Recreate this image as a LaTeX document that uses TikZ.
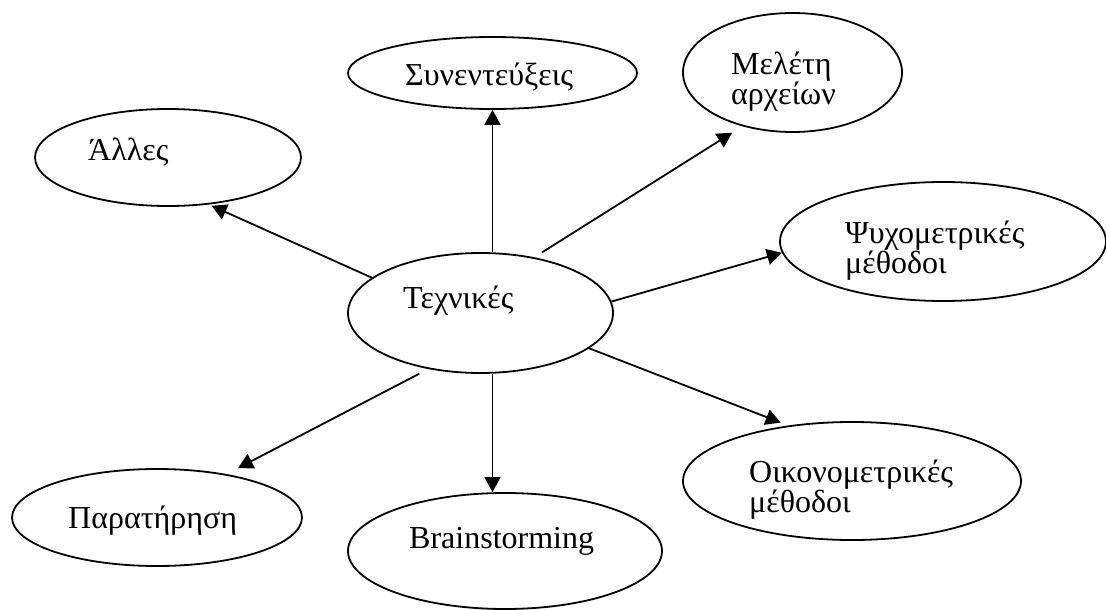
\documentclass[tikz,border=0pt]{standalone}
\usepackage{fontspec}
\setmainfont{Liberation Serif}
\usetikzlibrary{shapes.geometric,arrows.meta}
\begin{document}
\begin{tikzpicture}[x=1pt,y=-1pt,
  oval/.style={ellipse,draw,line width=1.8pt,inner sep=0pt},
  lbl/.style={anchor=base west,inner sep=0pt,font=\fontsize{32}{30}\selectfont,align=left},
  arr/.style={line width=1.8pt,-{Triangle[length=15pt,width=16pt]}}]
\useasboundingbox (0,0) rectangle (1106,610);

% ovals
\node[oval,minimum width=289pt,minimum height=72pt]  (syn)   at (492.5,73)  {};
\node[oval,minimum width=266pt,minimum height=97pt]  (alles) at (168,157.5) {};
\node[oval,minimum width=219pt,minimum height=119pt] (mel)   at (792.5,72.5) {};
\node[oval,minimum width=326pt,minimum height=119pt] (psy)   at (943,241.5) {};
\node[oval,minimum width=265pt,minimum height=120pt] (tech)  at (480.5,313) {};
\node[oval,minimum width=290pt,minimum height=97pt]  (par)   at (157,517.5) {};
\node[oval,minimum width=314pt,minimum height=116pt] (brain) at (505,551) {};
\node[oval,minimum width=338pt,minimum height=118pt] (oik)   at (852,481) {};

% labels (two-line labels are placed by the baseline of their last line)
\node[lbl] (tsyn)   at (405,85)  {Συνεντεύξεις};
\node[lbl] (talles) at (88,160)  {Άλλες};
\node[lbl] (tmel)   at (731,104) {Μελέτη\\αρχείων};
\node[lbl] (tpsy)   at (845,273) {Ψυχομετρικές\\μέθοδοι};
\node[lbl] (ttech)  at (403,308) {Τεχνικές};
\node[lbl] (tpar)   at (68,528)  {Παρατήρηση};
\node[lbl] (tbrain) at (409,548) {Brainstorming};
\node[lbl] (toik)   at (749,512) {Οικονομετρικές\\μέθοδοι};

% connectors
\draw[arr] (tech.north -| syn.south) -- (syn.south);
\draw[arr] (tech.south -| syn.south) -- (brain.north -| syn.south);
\draw[arr,shorten >=3pt] (tech.162) -- (alles.311.6);
\draw[arr,shorten <=9pt,shorten >=12pt] (tech.46.8) -- (mel.227.4);
\draw[arr] (tech.5.6) -- (psy.184.1);
\draw[arr,shorten >=8pt] (tech.342) -- (oik.139.1);
\draw[arr,shorten <=10pt,shorten >=13pt] (tech.227.5) -- (par.32.5);
\end{tikzpicture}
\end{document}
